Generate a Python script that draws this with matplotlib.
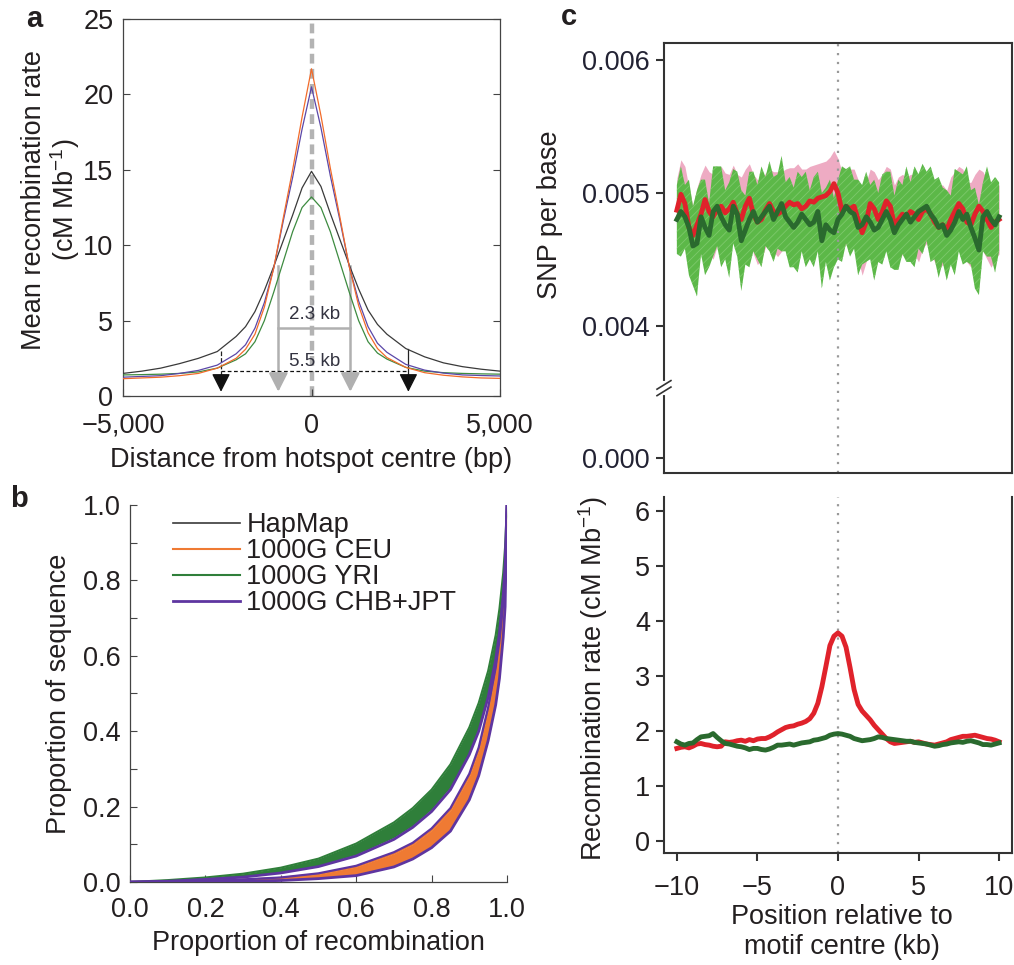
import numpy as np
import matplotlib
matplotlib.use("Agg")
import matplotlib.pyplot as plt
from matplotlib.patches import ArrowStyle

plt.rcParams['font.family'] = ['Liberation Sans', 'DejaVu Sans']
plt.rcParams['mathtext.fontset'] = 'custom'
plt.rcParams['mathtext.rm'] = 'Liberation Sans'
plt.rcParams['mathtext.it'] = 'Liberation Sans'
plt.rcParams['hatch.linewidth'] = 0.6
TXT = '#231f20'
FS = 19.5

# ---- panel a: mean recombination rate around hotspot centre ----
dist_bp = [-5000, -4500, -4000, -3500, -3000, -2500, -2000, -1750, -1500, -1250,
           -1000, -750, -500, -250, 0, 250, 500, 750, 1000, 1250,
           1500, 1750, 2000, 2500, 3000, 3500, 4000, 4500, 5000]
rate_hapmap = [1.50, 1.65, 1.85, 2.15, 2.50, 2.95, 3.95, 4.60, 5.60, 7.00,
               8.60, 10.3, 12.0, 13.8, 14.9, 13.9, 12.1, 10.4, 8.70, 7.10,
               5.70, 4.75, 4.10, 3.15, 2.60, 2.20, 1.95, 1.78, 1.65]
rate_ceu = [1.15, 1.20, 1.25, 1.35, 1.50, 1.85, 2.50, 3.10, 4.10, 5.90,
            8.50, 11.8, 15.0, 18.5, 21.7, 18.6, 15.1, 11.9, 8.60, 6.00,
            4.20, 3.15, 2.55, 1.90, 1.55, 1.38, 1.27, 1.20, 1.17]
rate_yri = [1.40, 1.42, 1.45, 1.50, 1.60, 1.85, 2.40, 2.80, 3.60, 5.00,
            6.90, 8.90, 10.9, 12.5, 13.2, 12.5, 10.9, 8.90, 6.90, 5.00,
            3.60, 2.85, 2.45, 1.90, 1.65, 1.55, 1.50, 1.47, 1.45]
rate_chb = [1.25, 1.30, 1.35, 1.50, 1.70, 2.05, 2.80, 3.40, 4.50, 6.20,
            8.50, 11.6, 14.5, 17.7, 20.5, 17.8, 14.6, 11.7, 8.60, 6.30,
            4.60, 3.50, 2.90, 2.10, 1.72, 1.52, 1.40, 1.36, 1.33]
outer_x = [-2400, 2570]      # 5.5 kb arrows
outer_top = [3.0, 3.15]
inner_x = [-880, 1030]       # 2.3 kb arrows
inner_top = [8.6, 8.6]
a_xticks = [-5000, 0, 5000]
a_xticklabels = ['\u22125,000', '0', '5,000']

# ---- panel b: cumulative proportion of sequence vs recombination ----
prop_rec = [0, 0.1, 0.2, 0.3, 0.4, 0.5, 0.6, 0.7, 0.75, 0.8, 0.85, 0.9,
            0.925, 0.95, 0.97, 0.98, 0.99, 0.995, 1.0]
yri_hi = [0, 0.005, 0.012, 0.022, 0.038, 0.062, 0.102, 0.158, 0.196, 0.245, 0.312, 0.41,
          0.475, 0.56, 0.655, 0.725, 0.82, 0.89, 1.0]
yri_lo = [0, 0.003, 0.008, 0.015, 0.026, 0.044, 0.073, 0.118, 0.150, 0.193, 0.252, 0.345,
          0.41, 0.50, 0.60, 0.67, 0.77, 0.85, 1.0]
chb_a = [0, 0.002, 0.007, 0.013, 0.024, 0.041, 0.069, 0.113, 0.145, 0.187, 0.245, 0.338,
         0.40, 0.49, 0.59, 0.66, 0.76, 0.84, 1.0]
ceu_hi = [0, 0.001, 0.003, 0.006, 0.011, 0.021, 0.040, 0.075, 0.100, 0.137, 0.19, 0.28,
          0.35, 0.455, 0.56, 0.63, 0.73, 0.80, 1.0]
ceu_lo = [0, 0.0, 0.001, 0.002, 0.005, 0.010, 0.019, 0.042, 0.064, 0.095, 0.14, 0.225,
          0.29, 0.385, 0.48, 0.55, 0.66, 0.74, 1.0]
chb_b = [0, 0.001, 0.003, 0.007, 0.012, 0.023, 0.043, 0.079, 0.104, 0.142, 0.196, 0.287,
         0.357, 0.463, 0.568, 0.64, 0.74, 0.81, 1.0]
chb_c = [0, 0, 0.001, 0.002, 0.004, 0.009, 0.017, 0.040, 0.061, 0.091, 0.135, 0.218,
         0.282, 0.375, 0.47, 0.54, 0.65, 0.73, 1.0]
hapmap_b = [0, 0.0005, 0.002, 0.004, 0.008, 0.015, 0.029, 0.058, 0.082, 0.116, 0.165, 0.252,
            0.32, 0.42, 0.52, 0.59, 0.70, 0.77, 1.0]
legend_labels = ['HapMap', '1000G CEU', '1000G YRI', '1000G CHB+JPT']

# ---- panel c: SNP density (x 1e-3 per base) and recombination around motif ----
pos_kb = np.arange(-10, 10.01, 0.25)
snp_red = [4.87, 4.99, 4.92, 4.74,  4.68, 4.76, 4.84, 4.95,  4.86, 4.82, 4.88, 4.90,
           4.85, 4.88, 4.93, 4.84,  4.80, 4.90, 4.96, 4.84,  4.78, 4.80, 4.87, 4.92,
           4.86, 4.84, 4.86, 4.90,  4.93, 4.91, 4.92, 4.88,  4.90, 4.94, 4.93, 4.96,
           4.97, 4.98, 5.01, 5.07,  5.00, 4.86, 4.90, 4.88,  4.90, 4.80, 4.70, 4.78,
           4.92, 4.88, 4.80, 4.86,  4.94, 4.90, 4.76, 4.80,  4.84, 4.82, 4.86, 4.84,
           4.80, 4.86, 4.88, 4.84,  4.78, 4.74, 4.76, 4.72,  4.80, 4.86, 4.92, 4.88,
           4.78, 4.76, 4.84, 4.90,  4.86, 4.80, 4.74, 4.78,  4.80]
snp_red_ci = [0.24, 0.26, 0.28, 0.30,  0.22, 0.28, 0.30, 0.26,  0.30, 0.32, 0.28, 0.30,
              0.30, 0.26, 0.28, 0.30,  0.32, 0.28, 0.26, 0.30,  0.32, 0.30, 0.28, 0.26,
              0.30, 0.32, 0.30, 0.28,  0.26, 0.28, 0.30, 0.30,  0.28, 0.26, 0.28, 0.26,
              0.26, 0.26, 0.26, 0.25,  0.26, 0.30, 0.28, 0.30,  0.28, 0.30, 0.32, 0.30,
              0.26, 0.28, 0.30, 0.28,  0.26, 0.28, 0.30, 0.32,  0.30, 0.30, 0.28, 0.30,
              0.32, 0.28, 0.26, 0.30,  0.30, 0.32, 0.30, 0.30,  0.32, 0.30, 0.28, 0.30,
              0.30, 0.32, 0.30, 0.28,  0.30, 0.30, 0.30, 0.28,  0.26]
snp_green = [4.80, 4.86, 4.82, 4.74,  4.60, 4.62, 4.82, 4.74,  4.68, 4.86, 4.90, 4.82,
             4.76, 4.72, 4.90, 4.84,  4.64, 4.72, 4.80, 4.86,  4.78, 4.82, 4.86, 4.90,
             4.80, 4.86, 4.92, 4.82,  4.78, 4.74, 4.78, 4.84,  4.80, 4.76, 4.78, 4.86,
             4.64, 4.76, 4.72, 4.70,  4.80, 4.84, 4.90, 4.86,  4.84, 4.74, 4.76, 4.82,
             4.78, 4.72, 4.74, 4.80,  4.86, 4.80, 4.70, 4.76,  4.80, 4.84, 4.78, 4.82,
             4.86, 4.88, 4.90, 4.84,  4.80, 4.74, 4.76, 4.68,  4.72, 4.78, 4.86, 4.80,
             4.84, 4.74, 4.66, 4.57,  4.82, 4.86, 4.80, 4.76,  4.82]
snp_green_ci = [0.26, 0.34, 0.24, 0.36,  0.30, 0.40, 0.28, 0.36,  0.24, 0.34, 0.30, 0.38,
                0.26, 0.36, 0.28, 0.32,  0.38, 0.26, 0.36, 0.30,  0.28, 0.38, 0.26, 0.34,
                0.32, 0.28, 0.36, 0.26,  0.34, 0.30, 0.38, 0.28,  0.36, 0.26, 0.34, 0.30,
                0.36, 0.28, 0.38, 0.26,  0.30, 0.36, 0.28, 0.34,  0.26, 0.36, 0.30, 0.34,
                0.28, 0.38, 0.26, 0.34,  0.30, 0.36, 0.28, 0.34,  0.26, 0.36, 0.30, 0.38,
                0.28, 0.34, 0.26, 0.36,  0.30, 0.38, 0.28, 0.34,  0.26, 0.40, 0.30, 0.34,
                0.36, 0.28, 0.38, 0.34,  0.26, 0.34, 0.28, 0.36,  0.26]
rec_red = [1.68, 1.70, 1.71, 1.69,  1.72, 1.76, 1.77, 1.75,  1.74, 1.72, 1.71, 1.72,
           1.80, 1.79, 1.80, 1.82,  1.83, 1.81, 1.84, 1.82,  1.85, 1.86, 1.86, 1.89,
           1.93, 1.98, 2.02, 2.06,  2.08, 2.09, 2.12, 2.14,  2.17, 2.22, 2.32, 2.50,
           2.80, 3.17, 3.55, 3.72,  3.78, 3.72, 3.52, 3.15,  2.75, 2.48, 2.36, 2.28,
           2.20, 2.10, 2.02, 1.94,  1.86, 1.80, 1.77, 1.78,  1.79, 1.80, 1.81, 1.79,
           1.80, 1.78, 1.76, 1.75,  1.74, 1.76, 1.78, 1.80,  1.84, 1.86, 1.88, 1.90,
           1.90, 1.91, 1.92, 1.90,  1.88, 1.86, 1.85, 1.83,  1.80]
rec_green = [1.80, 1.76, 1.74, 1.77,  1.78, 1.84, 1.89, 1.90,  1.91, 1.95, 1.88, 1.82,
             1.77, 1.76, 1.74, 1.72,  1.71, 1.69, 1.66, 1.68,  1.68, 1.66, 1.65, 1.67,
             1.70, 1.74, 1.74, 1.75,  1.76, 1.74, 1.76, 1.78,  1.79, 1.80, 1.83, 1.84,
             1.86, 1.88, 1.92, 1.94,  1.95, 1.94, 1.92, 1.90,  1.86, 1.84, 1.82, 1.83,
             1.84, 1.86, 1.89, 1.88,  1.86, 1.85, 1.84, 1.83,  1.82, 1.81, 1.81, 1.79,
             1.78, 1.77, 1.76, 1.74,  1.72, 1.73, 1.75, 1.76,  1.78, 1.79, 1.80, 1.79,
             1.81, 1.82, 1.80, 1.78,  1.75, 1.75, 1.74, 1.76,  1.78]
snp_yticks = [0.0, 0.004, 0.005, 0.006]
snp_yticklabels = ['0.000', '0.004', '0.005', '0.006']

C_BLACK, C_ORANGE, C_GREEN, C_PURPLE = '#3a3a3a', '#f26b2a', '#3d8b40', '#5b47a8'
B_GREEN, B_ORANGE, B_PURPLE = '#2f7f3a', '#ef7a33', '#5e35a0'
RED, DKGREEN, LTGREEN, PINK = '#e0222b', '#2a6a2e', '#5cb848', '#eeabc3'

fig = plt.figure(figsize=(10.14, 9.65), dpi=100)

# ================= panel a =================
ax = fig.add_axes([0.1213, 0.5896, 0.3718, 0.3907])
ax.axvline(0, color='#b3b3b3', lw=3.2, ls=(0, (2.2, 1.2)), zorder=1)
ax.plot(dist_bp, rate_hapmap, color=C_BLACK, lw=0.9, zorder=3)
ax.plot(dist_bp, rate_yri, color=C_GREEN, lw=0.9, zorder=3)
ax.plot(dist_bp, rate_chb, color=C_PURPLE, lw=0.9, zorder=3)
ax.plot(dist_bp, rate_ceu, color=C_ORANGE, lw=0.9, zorder=3)
head = ArrowStyle('-|>', head_length=0.75, head_width=0.38)
for i, (x, top) in enumerate(zip(outer_x, outer_top)):
    ax.plot([x, x], [top, 1.0], color='#222222', lw=0.9, ls='--' if i == 0 else '-')
    ax.annotate('', xy=(x, 0.1), xytext=(x, 1.2),
                arrowprops=dict(arrowstyle=head, color='#111111', lw=0.9, mutation_scale=15))
for x, top in zip(inner_x, inner_top):
    ax.plot([x, x], [top, 1.0], color='#b0b0b0', lw=1.8)
    ax.annotate('', xy=(x, 0.1), xytext=(x, 1.2),
                arrowprops=dict(arrowstyle=head, color='#b0b0b0', lw=1.8, mutation_scale=15))
ax.plot(outer_x, [1.65, 1.65], color='#111111', lw=0.9, ls=(0, (3, 2)))
ax.plot(inner_x, [4.5, 4.5], color='#b0b0b0', lw=1.8)
ax.text(75, 5.4, '2.3 kb', ha='center', va='center', fontsize=13.5, color='#333340')
ax.text(75, 2.3, '5.5 kb', ha='center', va='center', fontsize=13.5, color='#333340')
ax.set_xlim(-5000, 5000)
ax.set_ylim(0, 25)
ax.set_xticks(a_xticks)
ax.set_xticklabels(a_xticklabels)
ax.set_yticks(range(0, 26, 5))
ax.tick_params(direction='in', right=True, length=5, width=0.8, labelsize=FS,
               colors='#444444', labelcolor=TXT, pad=7)
ax.tick_params(axis='x', pad=12)
for s in ax.spines.values():
    s.set_color('#444444')
    s.set_linewidth(0.9)
ax.set_xlabel('Distance from hotspot centre (bp)', fontsize=FS, color=TXT)
ax.xaxis.set_label_coords(0.5, -0.135)
ax.set_ylabel('Mean recombination rate\n(cM Mb$^{-1}$)', fontsize=FS, color=TXT,
              linespacing=1.05)
ax.yaxis.set_label_coords(-0.109, 0.52)
fig.text(0.026, 0.995, 'a', fontsize=21, fontweight='bold', color=TXT, va='top')

# ================= panel b =================
ax = fig.add_axes([0.1282, 0.0860, 0.3718, 0.3907])
ax.plot(prop_rec, hapmap_b, color=C_BLACK, lw=1.2, zorder=1, label=legend_labels[0])
ax.fill_between(prop_rec, ceu_lo, ceu_hi, color=B_ORANGE, lw=0, zorder=2)
hc, = ax.plot(prop_rec, ceu_hi, color=B_ORANGE, lw=1.5, zorder=2)
ax.fill_between(prop_rec, yri_lo, yri_hi, color=B_GREEN, lw=0, zorder=2)
hy, = ax.plot(prop_rec, yri_hi, color=B_GREEN, lw=1.5, zorder=2)
hp, = ax.plot(prop_rec, chb_a, color=B_PURPLE, lw=2.0, zorder=3)
ax.plot(prop_rec, chb_b, color=B_PURPLE, lw=1.6, zorder=3)
ax.plot(prop_rec, chb_c, color=B_PURPLE, lw=2.0, zorder=3)
hb = ax.lines[0]
ax.legend([hb, hc, hy, hp], legend_labels, loc='upper left', bbox_to_anchor=(0.115, 0.981),
          frameon=False, fontsize=FS, handlelength=2.45, handletextpad=0.25,
          labelspacing=0.0, borderpad=0, borderaxespad=0, labelcolor=TXT)
ax.set_xlim(0, 1)
ax.set_ylim(0, 1)
ax.set_xticks(np.arange(0, 1.01, 0.2))
ax.set_yticks(np.arange(0, 1.01, 0.2))
ax.set_yticks(np.arange(0.1, 1.0, 0.2), minor=True)
ax.xaxis.set_major_formatter(matplotlib.ticker.FormatStrFormatter('%.1f'))
ax.yaxis.set_major_formatter(matplotlib.ticker.FormatStrFormatter('%.1f'))
ax.tick_params(which='both', direction='in', length=5, width=0.8, labelsize=FS,
               colors='#444444', labelcolor=TXT, pad=7)
ax.tick_params(axis='x', pad=11)
ax.spines['top'].set_visible(False)
ax.spines['right'].set_visible(False)
for s in ['left', 'bottom']:
    ax.spines[s].set_color('#444444')
    ax.spines[s].set_linewidth(0.9)
ax.set_xlabel('Proportion of recombination', fontsize=FS, color=TXT)
ax.xaxis.set_label_coords(0.5, -0.128)
ax.set_ylabel('Proportion of sequence', fontsize=FS, color=TXT)
ax.yaxis.set_label_coords(-0.154, 0.5)
fig.text(0.01, 0.497, 'b', fontsize=21, fontweight='bold', color=TXT, va='top')

# ================= panel c (top, broken y axis) =================
B, K = 0.0035, 7.0
fwd = lambda y: np.where(y >= B, y, B - (B - y) / K)
inv = lambda t: np.where(t >= B, t, B - (B - t) * K)

ax = fig.add_axes([0.6548, 0.5098, 0.3432, 0.4456])
ax.set_yscale('function', functions=(fwd, inv))
red = np.array(snp_red) * 1e-3
red_ci = np.array(snp_red_ci) * 1e-3
grn = np.array(snp_green) * 1e-3
grn_ci = np.array(snp_green_ci) * 1e-3
ax.fill_between(pos_kb, red - red_ci, red + red_ci, color=PINK, lw=0, zorder=1)
ax.fill_between(pos_kb, grn - grn_ci, grn + grn_ci, facecolor=LTGREEN, edgecolor='#7dc96b',
                hatch='////', lw=0, zorder=2)
ax.axvline(0, color='#999999', lw=1.6, ls=(0, (1, 3)), zorder=2.5)
ax.plot(pos_kb, red, color=RED, lw=3.5, zorder=3)
ax.plot(pos_kb, grn, color=DKGREEN, lw=3.5, zorder=4)
ax.set_xlim(-10.8, 10.8)
ax.set_ylim(-0.00078, 0.00613)
ax.set_yticks(snp_yticks)
ax.set_yticklabels(snp_yticklabels)
ax.yaxis.set_minor_locator(matplotlib.ticker.NullLocator())
ax.set_xticks([])
ax.tick_params(direction='out', length=6, width=1.5, labelsize=FS, colors='#333333',
               labelcolor='#222233', pad=4)
for s in ax.spines.values():
    s.set_color('#333333')
    s.set_linewidth(1.5)
# axis break marks on the left spine
ax.plot([0, 0], [0.185, 0.21], transform=ax.transAxes, color='white', lw=3, clip_on=False, zorder=5)
ax.plot([-0.02, 0.02], [0.18, 0.2], transform=ax.transAxes, color='#333333', lw=1.2,
        clip_on=False, zorder=6)
ax.plot([-0.02, 0.02], [0.195, 0.215], transform=ax.transAxes, color='#333333', lw=1.2,
        clip_on=False, zorder=6)
ax.set_ylabel('SNP per base', fontsize=FS, color=TXT)
ax.yaxis.set_label_coords(-0.29, 0.6)
fig.text(0.553, 0.997, 'c', fontsize=21, fontweight='bold', color=TXT, va='top')

# ================= panel c (bottom) =================
ax = fig.add_axes([0.6548, 0.1161, 0.3432, 0.3689])
ax.axvline(0, color='#999999', lw=1.6, ls=(0, (1, 3)), zorder=1)
ax.plot(pos_kb, rec_red, color=RED, lw=3.5, zorder=2)
ax.plot(pos_kb, rec_green, color=DKGREEN, lw=3.5, zorder=3)
ax.set_xlim(-10.8, 10.8)
ax.set_ylim(-0.22, 6.25)
ax.set_xticks([-10, -5, 0, 5, 10])
ax.set_xticklabels(['\u221210', '\u22125', '0', '5', '10'])
ax.set_yticks(range(0, 7))
ax.tick_params(direction='out', length=6, width=1.5, labelsize=FS, colors='#333333',
               labelcolor=TXT, pad=4)
ax.tick_params(axis='x', pad=10)
ax.spines['top'].set_visible(False)
for s in ['left', 'bottom', 'right']:
    ax.spines[s].set_color('#333333')
    ax.spines[s].set_linewidth(1.5)
ax.set_xlabel('Position relative to\nmotif centre (kb)', fontsize=FS, color=TXT,
              linespacing=1.2)
ax.xaxis.set_label_coords(0.51, -0.143)
ax.set_ylabel('Recombination rate (cM Mb$^{-1}$)', fontsize=FS, color=TXT)
ax.yaxis.set_label_coords(-0.155, 0.49)

fig.savefig('out.png', dpi=100)
